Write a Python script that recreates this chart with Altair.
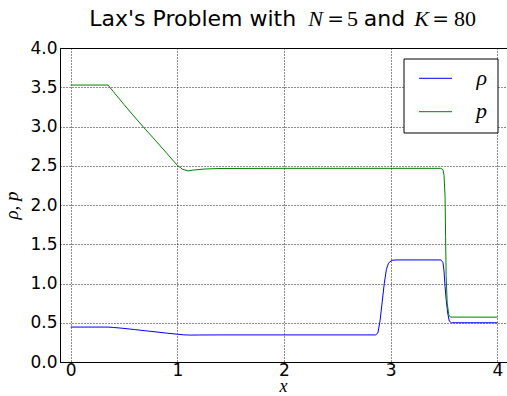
import altair as alt
import pandas as pd

# ---- data ----
series = ["ρ", "p"]

x_rho = [0.00, 0.35, 0.40, 0.50, 0.60, 0.70, 0.80, 0.90, 1.00, 1.06, 1.12, 1.20, 1.40,
         2.86, 2.88, 2.90, 2.92, 2.94, 2.96, 2.98, 3.01, 3.05, 3.47, 3.49, 3.50, 3.51,
         3.52, 3.535, 3.55, 3.57, 4.00]
rho = [0.445, 0.445, 0.440, 0.428, 0.413, 0.398, 0.383, 0.368, 0.354, 0.346, 0.343, 0.344, 0.345,
       0.345, 0.37, 0.52, 0.76, 1.00, 1.18, 1.26, 1.295, 1.30, 1.30, 1.27, 1.16, 0.96,
       0.80, 0.62, 0.52, 0.50, 0.50]

x_p = [0.00, 0.35, 0.40, 0.50, 0.60, 0.70, 0.80, 0.90, 1.00, 1.05, 1.10, 1.15, 1.25, 1.40,
       2.00, 3.47, 3.49, 3.50, 3.51, 3.515, 3.52, 3.53, 3.545, 3.56, 4.00]
p = [3.528, 3.528, 3.445, 3.28, 3.12, 2.965, 2.815, 2.66, 2.505, 2.455, 2.434, 2.445, 2.458, 2.465,
     2.467, 2.467, 2.45, 2.38, 2.10, 1.60, 1.10, 0.75, 0.60, 0.572, 0.571]

x_ticks = [0, 1, 2, 3, 4]
y_ticks = [0.0, 0.5, 1.0, 1.5, 2.0, 2.5, 3.0, 3.5, 4.0]

BLUE = "#0000ff"
GREEN = "#008000"
W, H = 448, 314

df_rho = pd.DataFrame({"x": x_rho, "v": rho, "s": series[0]})
df_p = pd.DataFrame({"x": x_p, "v": p, "s": series[1]})
one = pd.DataFrame({"k": [0]})

xs = alt.Scale(domain=[-0.1, 4.1], nice=False, zero=False)
ys = alt.Scale(domain=[0, 4], nice=False, zero=False)

xaxis = alt.Axis(values=x_ticks, format="d", title="x", titleFont="Liberation Serif",
                 titleFontStyle="italic", titleFontSize=18, titleFontWeight="normal",
                 titleX=223, titleY=33, titleAlign="center", titleBaseline="bottom",
                 labelPadding=0, labelFlush=False, labelOverlap=False)
yaxis = alt.Axis(values=y_ticks, format=".1f", title="ρ, p", titleFont="Liberation Serif",
                 titleFontStyle="italic", titleFontSize=19, titleFontWeight="normal",
                 titleX=-49, titleY=157, titleAlign="center", titleBaseline="middle",
                 titleAngle=270, labelPadding=3, labelOverlap=False)

x_enc = alt.X("x:Q", scale=xs, axis=xaxis)
y_enc = alt.Y("v:Q", scale=ys, axis=yaxis)

line_rho = alt.Chart(df_rho).mark_line(color=BLUE, strokeWidth=1).encode(x=x_enc, y=y_enc)
line_p = alt.Chart(df_p).mark_line(color=GREEN, strokeWidth=1).encode(x=x_enc, y=y_enc)

# ---- legend box (matplotlib style) ----
leg_box = alt.Chart(one).mark_rect(fill="white", stroke="black", strokeWidth=1).encode(
    x=alt.value(344), x2=alt.value(438), y=alt.value(11), y2=alt.value(85))
leg_rho = alt.Chart(one).mark_rule(color=BLUE, strokeWidth=1).encode(
    x=alt.value(359), x2=alt.value(392), y=alt.value(30.3))
leg_p = alt.Chart(one).mark_rule(color=GREEN, strokeWidth=1).encode(
    x=alt.value(359), x2=alt.value(392), y=alt.value(63.7))
leg_t1 = alt.Chart(one).mark_text(text=series[0], font="Liberation Serif", fontStyle="italic",
                                  fontSize=22, align="right", baseline="alphabetic",
                                  color="black").encode(x=alt.value(427), y=alt.value(37))
leg_t2 = alt.Chart(one).mark_text(text=series[1], font="Liberation Serif", fontStyle="italic",
                                  fontSize=22, align="right", baseline="alphabetic",
                                  color="black").encode(x=alt.value(427), y=alt.value(70))

# ---- title in pieces (sans text + math italics) ----
TY = -22
def tpiece(txt, xpos, font="DejaVu Sans", style="normal", size=22, align="center"):
    return alt.Chart(one).mark_text(text=txt, font=font, fontStyle=style, fontSize=size,
                                    align=align, baseline="alphabetic", color="black").encode(
        x=alt.value(xpos), y=alt.value(TY))

title_parts = [
    tpiece("Lax's Problem with", 29.3, align="left"),
    tpiece("N", 255.5, "Liberation Serif", "italic"),
    tpiece("=", 275.5, "DejaVu Serif", size=20),
    tpiece("5", 292.5, "Liberation Serif"),
    tpiece("and", 324.5, "DejaVu Sans"),
    tpiece("K", 361.5, "Liberation Serif", "italic"),
    tpiece("=", 380.5, "DejaVu Serif", size=20),
    tpiece("80", 405, "Liberation Serif"),
]

chart = alt.layer(line_rho, line_p, leg_box, leg_rho, leg_p, leg_t1, leg_t2, *title_parts).properties(
    width=W, height=H,
    padding={"left": 60, "top": 48, "right": -1, "bottom": 34},
    autosize=alt.AutoSizeParams(type="none"),
).configure_view(
    stroke="black", strokeWidth=1
).configure_axis(
    grid=True, gridColor="#000000", gridDash=[1, 2], gridOpacity=0.9, gridWidth=1,
    domain=False, ticks=False,
    labelFont="DejaVu Sans", labelFontSize=17, labelColor="black",
    titleColor="black",
)

chart.save("out.html", embed_options={"renderer": "svg", "actions": False})
